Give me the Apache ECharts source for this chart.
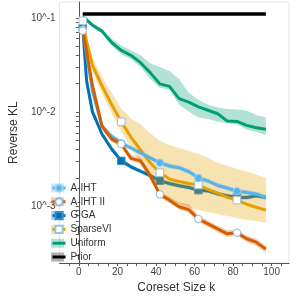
<!DOCTYPE html>
<html><head><meta charset="utf-8">
<script src="https://cdn.jsdelivr.net/npm/echarts@6/dist/echarts.min.js"></script>
<style>html,body{margin:0;padding:0;background:#fff}#c{width:299px;height:299px}</style>
</head><body><div id="c"></div>
<script>
// ---- data ----
const kValues = [2,4,7,12,17,22,27,32,37,42,47,52,57,62,67,72,77,82,87,92,97];
const markerK = [2,22,42,62,82];
const xTickLabels = [0,20,40,60,80,100];
const yTickLabels = [0.001, 0.01, 0.1];

const aihtMean = [0.0748,0.0410,0.0168,0.00705,0.00554,0.00468,0.00415,0.00368,0.00326,0.00289,0.00267,0.00256,0.00233,0.00199,0.00185,0.00166,0.00156,0.00144,0.00140,0.00135,0.00124];
const aihtLo   = [0.072,0.039,0.0158,0.0066,0.0052,0.0044,0.0039,0.0035,0.0031,0.00275,0.00252,0.00242,0.0022,0.00188,0.00175,0.00157,0.00147,0.00136,0.00132,0.00127,0.00117];
const aihtHi   = [0.078,0.043,0.0178,0.0075,0.0059,0.0050,0.0044,0.0039,0.00345,0.00305,0.00285,0.00272,0.00248,0.00212,0.00197,0.00177,0.00166,0.00153,0.00149,0.00144,0.00132];

const aiht2Mean = [0.0731,0.0441,0.0194,0.00705,0.00515,0.00457,0.00322,0.00303,0.00211,0.001335,0.00116,0.000988,0.000919,0.000731,0.000648,0.000574,0.000509,0.000522,0.000451,0.000415,0.000350];
const aiht2Lo   = [0.069,0.041,0.0180,0.0066,0.0048,0.0043,0.0030,0.0028,0.0019,0.00124,0.00108,0.00092,0.00085,0.00068,0.00060,0.00053,0.00047,0.00049,0.00042,0.00038,0.00032];
const aiht2Hi   = [0.077,0.047,0.021,0.0077,0.0055,0.0049,0.0035,0.0033,0.0023,0.00143,0.00125,0.00110,0.00105,0.00080,0.00070,0.00062,0.00056,0.00056,0.00049,0.00045,0.00038];

const gigaMean = [0.0786,0.0214,0.0101,0.00581,0.00405,0.00303,0.00262,0.00235,0.00211,0.00186,0.00174,0.00165,0.00158,0.00148,0.00146,0.00135,0.00129,0.00124,0.00124,0.00129,0.00124];
const gigaLo   = [0.075,0.020,0.0095,0.0055,0.0038,0.00285,0.00247,0.00222,0.0020,0.00176,0.00165,0.00156,0.0015,0.0014,0.00138,0.00128,0.00122,0.00117,0.00117,0.00122,0.00117];
const gigaHi   = [0.082,0.023,0.0107,0.0062,0.0043,0.0032,0.00277,0.00248,0.00223,0.00197,0.00184,0.00174,0.00167,0.00156,0.00154,0.00143,0.00136,0.00131,0.00131,0.00136,0.00131];

const sviMean = [0.0930,0.0561,0.0314,0.01894,0.0120,0.00790,0.00541,0.00395,0.00289,0.00227,0.00194,0.00183,0.00174,0.00168,0.00151,0.00138,0.00124,0.00116,0.00105,0.000976,0.000908];
const sviLo   = [0.0886,0.0509,0.0272,0.01562,0.00965,0.00625,0.00415,0.00289,0.00201,0.00140,0.00116,0.00105,0.000976,0.000908,0.000866,0.000825,0.000786,0.000749,0.000713,0.000697,0.000664];
const sviHi   = [0.0976,0.0617,0.0381,0.0235,0.0160,0.01088,0.00855,0.00740,0.00596,0.00491,0.00446,0.00415,0.00386,0.00359,0.00326,0.00289,0.00269,0.00250,0.00233,0.00216,0.00201];

const uniMean = [0.1024,0.0953,0.0835,0.0722,0.0547,0.0451,0.0400,0.0334,0.0262,0.0199,0.0187,0.01385,0.01273,0.01134,0.01044,0.00958,0.00801,0.00795,0.00722,0.00680,0.00656];
const uniLo   = [0.100,0.0919,0.0805,0.0680,0.0509,0.0410,0.0363,0.0300,0.0224,0.0181,0.0172,0.0120,0.0101,0.00876,0.00845,0.00795,0.00758,0.00740,0.00648,0.00617,0.00567];
const uniHi   = [0.105,0.0988,0.0886,0.0767,0.0603,0.0509,0.0451,0.0400,0.0330,0.0300,0.0272,0.0224,0.0160,0.01352,0.0120,0.01114,0.01075,0.01062,0.01037,0.00930,0.00876];

const priorMean = [0.110,0.110,0.110,0.110,0.110,0.110,0.110,0.110,0.110,0.110,0.110,0.110,0.110,0.110,0.110,0.110,0.110,0.110,0.110,0.110,0.110];
const priorLo   = [0.107,0.107,0.107,0.107,0.107,0.107,0.107,0.107,0.107,0.107,0.107,0.107,0.107,0.107,0.107,0.107,0.107,0.107,0.107,0.107,0.107];
const priorHi   = [0.113,0.113,0.113,0.113,0.113,0.113,0.113,0.113,0.113,0.113,0.113,0.113,0.113,0.113,0.113,0.113,0.113,0.113,0.113,0.113,0.113];

const methodNames = ['A-IHT','A-IHT II','GIGA','SparseVI','Uniform','Prior'];

// ---- styling ----
const FONT = 'Liberation Sans';
const Y_MIN = -3.604, Y_MAX = -0.832;
const methods = [
  {name:methodNames[0], mean:aihtMean,  lo:aihtLo,  hi:aihtHi,  color:'#56B4E9', band:'rgba(86,180,233,0.3)', symbol:'circle', fill:'#56B4E9', border:'#9fd3f2', zl:7, zb:6},
  {name:methodNames[1], mean:aiht2Mean, lo:aiht2Lo, hi:aiht2Hi, color:'#D55E00', band:'rgba(213,94,0,0.3)',   symbol:'circle', fill:'#ffffff', border:'#8cbadb', zl:9, zb:8},
  {name:methodNames[2], mean:gigaMean,  lo:gigaLo,  hi:gigaHi,  color:'#0072B2', band:'rgba(0,114,178,0.3)',  symbol:'rect',   fill:'#0072B2', border:'#3d8fc4', zl:2, zb:1},
  {name:methodNames[3], mean:sviMean,   lo:sviLo,   hi:sviHi,   color:'#E69F00', band:'rgba(230,159,0,0.3)',  symbol:'rect',   fill:'#ffffff', border:'#9cc3dc', zl:5, zb:3},
  {name:methodNames[4], mean:uniMean,   lo:uniLo,   hi:uniHi,   color:'#009E73', band:'rgba(0,158,115,0.3)',  symbol:'none',   zl:2, zb:1},
  {name:methodNames[5], mean:priorMean, lo:priorLo, hi:priorHi, color:'#000000', band:'rgba(0,0,0,0.3)',      symbol:'none',   zl:11, zb:10}
];

const L = v => Math.log10(v);
const series = [];
methods.forEach(m => {
  series.push({
    name: m.name + ' ', type:'custom', z:m.zb, silent:true, clip:true,
    itemStyle:{color:m.band},
    encode:{x:0, y:[1,2]},
    data: kValues.map((k,i)=>[k, L(m.lo[i]), L(m.hi[i])]),
    renderItem: (params, api) => {
      if (params.dataIndex !== 0) return;
      const up = kValues.map((k,i)=>api.coord([k, L(m.hi[i])]));
      const dn = kValues.map((k,i)=>api.coord([k, L(m.lo[i])])).reverse();
      return {type:'polygon', shape:{points: up.concat(dn)}, style:{fill:m.band}};
    }
  });
  const hasMarker = m.symbol !== 'none';
  series.push({
    name: m.name, type:'line', z:m.zl,
    symbol: m.symbol, symbolSize: 7.5, showAllSymbol:true,
    data: kValues.map((k,i)=>{
      const p=[k, L(m.mean[i])];
      return (hasMarker && markerK.includes(k)) ? p : {value:p, symbol:'none'};
    }),
    lineStyle:{color:m.color, width: m.name==='Prior'?3.5:3},
    itemStyle: hasMarker ? {color:m.fill, borderColor:m.border, borderWidth:1} : {color:m.color},
    silent:true
  });
});

const yMinorTicks = [];
for (let d=-4; d<=-1; d++) for (let mm=1; mm<=9; mm++){ const v=Math.log10(mm)+d; if (v>=Y_MIN && v<=Y_MAX) yMinorTicks.push(v); }
const xMinorTicks = [];
for (let x=-5; x<=105; x+=5) xMinorTicks.push(x);

const legendBase = {orient:'vertical', left:51, top:183, padding:0, itemWidth:13, itemHeight:9, itemGap:3.8,
  selectedMode:false, textStyle:{fontSize:10, color:'#333', fontFamily:FONT}};

const option = {
  animation:false,
  backgroundColor:'#fff',
  grid:{left:47, right:10, top:2, bottom:32, show:true, borderColor:'#e6e6e6', borderWidth:1},
  xAxis:{
    type:'value', min:-10, max:109,
    name:'Coreset Size k', nameLocation:'middle', nameGap:14,
    nameTextStyle:{fontSize:12, color:'#333', fontFamily:FONT, padding:[0,0,0,4]},
    axisLine:{lineStyle:{color:'#555', width:1}},
    axisTick:{customValues:xMinorTicks, length:3, lineStyle:{color:'#555'}},
    axisLabel:{customValues:xTickLabels, fontSize:10, color:'#444', fontFamily:FONT, margin:4},
    splitLine:{show:false}
  },
  yAxis:{
    type:'value', min:Y_MIN, max:Y_MAX,
    name:'Reverse KL', nameLocation:'middle', nameGap:30,
    nameTextStyle:{fontSize:12, color:'#333', fontFamily:FONT},
    axisLine:{show:true, lineStyle:{color:'#555', width:1}},
    axisTick:{show:true, customValues:yMinorTicks, length:3, lineStyle:{color:'#555'}},
    axisLabel:{customValues:yTickLabels.map(L), fontSize:10, color:'#444', fontFamily:FONT, margin:4,
      formatter: v => '10^' + Math.round(v)},
    splitLine:{show:false}
  },
  legend:[
    Object.assign({}, legendBase, {z:4, textStyle:Object.assign({}, legendBase.textStyle, {color:'rgba(0,0,0,0)'}),
      data: methods.map(m=>({name:m.name + ' ', icon:'rect'}))}),
    Object.assign({}, legendBase, {z:5, lineStyle:{width:3},
      data: methods.map(m=> m.symbol==='none' ? {name:m.name, itemStyle:{opacity:0}} : {name:m.name})})
  ],
  series
};
const chart = echarts.init(document.getElementById('c'), null, {renderer:'canvas'});
chart.setOption(option);
</script>
</body></html>
